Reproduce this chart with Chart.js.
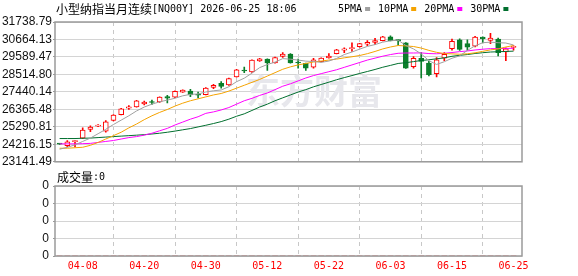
<!DOCTYPE html>
<html lang="zh-CN">
<head>
  <meta charset="UTF-8">
  <title>小型纳指当月连续[NQ00Y]</title>
  <script src="https://cdn.jsdelivr.net/npm/chart.js"></script>
  <style>
    html, body { margin: 0; padding: 0; background: #fff; }
    #wrap { position: relative; width: 578px; height: 276px; overflow: hidden; }
    #kline { position: absolute; left: 0; top: 0; }
    #vol { position: absolute; left: 0; top: 170px; }
  </style>
</head>
<body>
  <div id="wrap">
    <canvas id="kline" width="578" height="170"></canvas>
    <canvas id="vol" width="578" height="111"></canvas>
  </div>

  <script>
    // 交易日
    const dates = ['04-03','04-06','04-07','04-08','04-09','04-10','04-13','04-14','04-15','04-16',
                   '04-17','04-20','04-21','04-22','04-23','04-24','04-27','04-28','04-29','04-30',
                   '05-01','05-04','05-05','05-06','05-07','05-08','05-11','05-12','05-13','05-14',
                   '05-15','05-18','05-19','05-20','05-21','05-22','05-25','05-26','05-27','05-28',
                   '05-29','06-01','06-02','06-03','06-04','06-05','06-08','06-09','06-10','06-11',
                   '06-12','06-15','06-16','06-17','06-18','06-19','06-22','06-23','06-24','06-25'];
    const xTickLabels = ['04-08','04-20','04-30','05-12','05-22','06-03','06-15','06-25'];

    const open  = [24245,24137,24375,24589,25126,25328,25030,25686,26043,26436,
                   26520,26699,26805,26818,27151,27116,27431,27491,27245,27271,
                   27711,27968,27866,28367,28735,28665,29338,29457,29219,29618,
                   29773,29230,29201,28963,29296,29535,29797,30011,30095,30214,
                   30369,30488,30589,30827,30600,30452,28998,29499,29219,28563,
                   29517,30095,30649,30410,30250,30810,30607,30690,29892,30180];
    const high  = [24262,24452,24452,25227,25346,25430,25680,26050,26430,26597,
                   26920,26877,26937,27140,27235,27500,27575,27592,27431,27700,
                   27910,28069,28290,28830,28963,29420,29500,29480,29580,29856,
                   29800,29457,29220,29499,29540,29797,30060,30150,30452,30430,
                   30590,30740,30850,30887,30649,30470,29618,29856,29320,29558,
                   29856,30690,30708,30649,30850,30820,31048,30750,30154,30291];
    const low   = [24210,24053,24053,24560,24989,25300,24960,25660,26020,26359,
                   26500,26639,26675,26800,26758,27090,27410,27151,27074,27250,
                   27640,27670,27840,28340,28623,28640,29320,28760,29200,29558,
                   29200,28903,28760,28903,29280,29520,29780,29856,29934,30190,
                   30290,30350,30570,30570,30309,28880,28903,28307,28426,28367,
                   29356,30011,29993,30011,30210,30452,30410,29654,29356,30011];
    const close = [24232,24375,24452,25090,25269,25406,25602,26019,26401,26520,
                   26895,26818,26790,27116,27056,27473,27551,27253,27235,27670,
                   27848,27771,28266,28802,28724,29398,29475,29219,29558,29773,
                   29219,29219,28903,29415,29517,29636,30035,30095,30172,30410,
                   30488,30589,30827,30589,30589,28903,29499,29320,28504,29415,
                   29755,30547,30053,30190,30810,30708,30750,29856,30095,30214];

    const ma5  = [23916,24035,24184,24393,24601,24869,25138,25436,25704,25972,
                  26270,26508,26687,26830,26937,27050,27199,27288,27312,27437,
                  27509,27557,27759,28069,28283,28593,28933,29124,29272,29487,
                  29451,29398,29332,29308,29255,29338,29499,29737,29892,30071,
                  30238,30351,30500,30583,30619,30297,30083,29779,29362,29129,
                  29296,29511,29654,29993,30273,30464,30500,30464,30446,30327];
    const ma10 = [23976,23976,24006,24035,24155,24333,24542,24750,24959,25227,
                  25465,25733,25972,26180,26359,26568,26746,26895,27014,27134,
                  27253,27342,27491,27670,27848,28027,28206,28415,28623,28832,
                  28981,29100,29189,29278,29338,29398,29457,29535,29600,29678,
                  29791,29928,30083,30202,30291,30267,30232,30136,29993,29874,
                  29797,29779,29755,29785,29844,29934,30023,30083,30202,30291];
    const ma20 = [24244,24244,24244,24256,24274,24333,24393,24452,24542,24631,
                  24691,24780,24899,25048,25197,25406,25584,25763,25912,26121,
                  26210,26329,26478,26687,26895,27044,27223,27372,27580,27789,
                  27938,28117,28295,28444,28563,28683,28802,28951,29100,29249,
                  29397,29517,29636,29737,29815,29833,29833,29839,29797,29785,
                  29815,29862,29916,29958,30017,30065,30101,30101,30113,30124];
    const ma30 = [24572,24572,24572,24589,24601,24631,24661,24691,24721,24750,
                  24780,24810,24852,24899,24959,25030,25108,25185,25287,25388,
                  25495,25614,25763,25942,26091,26299,26508,26687,26895,27074,
                  27253,27431,27580,27753,27896,28039,28188,28319,28444,28575,
                  28695,28820,28957,29070,29189,29237,29302,29374,29415,29475,
                  29535,29630,29690,29737,29803,29850,29892,29910,29928,29946];

    const volume = [0,0,0,0,0,0,0,0,0,0, 0,0,0,0,0,0,0,0,0,0, 0,0,0,0,0,0,0,0,0,0,
                    0,0,0,0,0,0,0,0,0,0, 0,0,0,0,0,0,0,0,0,0, 0,0,0,0,0,0,0,0,0,0];

    const yTicks = [23141.49, 24216.15, 25290.81, 26365.48, 27440.14, 28514.80, 29589.47, 30664.13, 31738.79];
    const volTicks = [0, 1, 2, 3, 4];
    const volTickLabels = ['0','0','0','0','0'];

    const titleName = '小型纳指当月连续';
    const titleCode = '[NQ00Y] 2026-06-25 18:06';
    const maNames = ['5PMA', '10PMA', '20PMA', '30PMA'];
    const maColors = ['#a0a0a0', '#f5a300', '#ff00ff', '#006f2e'];

    const upColor = '#ff0000';
    const downColor = '#0b7f2a';
    const cjk = '"Noto Sans CJK SC"';
    const mono = '"DejaVu Sans Mono"';

    Chart.defaults.font.family = '"Liberation Sans", Arial, sans-serif';
    Chart.defaults.animation = false;

    const xTickIdx = xTickLabels.map(d => dates.indexOf(d));
    const isUp = i => close[i] >= open[i];

    // 外框
    const framePlugin = {
      id: 'frame',
      afterDraw(chart) {
        const { ctx, chartArea: a } = chart;
        ctx.save();
        ctx.strokeStyle = '#9a9a9a';
        ctx.lineWidth = 1.5;
        ctx.strokeRect(a.left, a.top, a.right - a.left, a.bottom - a.top);
        ctx.restore();
      }
    };

    const headerPlugin = {
      id: 'header',
      beforeDatasetsDraw(chart) {
        const ctx = chart.ctx;
        ctx.save();
        ctx.font = 'bold 34px ' + cjk;
        ctx.fillStyle = '#e7e7ec';
        ctx.textBaseline = 'middle';
        ctx.fillText('东方财富', 246, 91);
        ctx.restore();
      },
      afterDraw(chart) {
        const ctx = chart.ctx;
        ctx.save();
        ctx.fillStyle = '#000';
        ctx.textBaseline = 'middle';
        ctx.font = '12px ' + cjk;
        ctx.fillText(titleName, 56, 9);
        const w = ctx.measureText(titleName).width;
        ctx.font = '10px ' + mono;
        ctx.fillText(titleCode, 56 + w, 9);

        let x = 338;
        maNames.forEach((name, k) => {
          ctx.fillStyle = '#000';
          ctx.fillText(name, x, 9);
          x += ctx.measureText(name).width + 3;
          ctx.fillStyle = maColors[k];
          ctx.fillRect(x, 7, 5, 4);
          x += 13;
        });
        ctx.restore();
      }
    };

    const volLabelPlugin = {
      id: 'volLabel',
      afterDraw(chart) {
        const ctx = chart.ctx;
        ctx.save();
        ctx.fillStyle = '#000';
        ctx.textBaseline = 'middle';
        ctx.font = '12px ' + cjk;
        ctx.fillText('成交量', 57, 7);
        const w = ctx.measureText('成交量').width;
        ctx.font = '10px ' + mono;
        ctx.fillText(':' + volume[volume.length - 1], 57 + w, 7);
        ctx.restore();
      }
    };

    const xScale = (showLabels) => ({
      type: 'linear',
      min: -0.6,
      max: 60.1,
      offset: false,
      afterBuildTicks: s => { s.ticks = xTickIdx.map(v => ({ value: v })); },
      ticks: {
        display: showLabels,
        autoSkip: false,
        maxRotation: 0,
        padding: 4,
        color: '#ff0000',
        font: { family: mono, size: 10 },
        callback: v => dates[v]
      },
      grid: { color: '#c8c8c8', drawTicks: false },
      border: { display: false, dash: [4, 4] }
    });

    new Chart(document.getElementById('kline'), {
      type: 'bar',
      data: {
        datasets: [
          ...[ma5, ma10, ma20, ma30].map((arr, k) => ({
            type: 'line',
            label: maNames[k],
            data: arr.map((v, i) => ({ x: i, y: v })),
            borderColor: maColors[k],
            borderWidth: 1,
            pointRadius: 0,
            tension: 0,
            order: 0
          })),
          {
            label: 'body',
            data: dates.map((d, i) => ({ x: i, y: [open[i], close[i]] })),
            backgroundColor: c => isUp(c.dataIndex) ? '#ffffff' : downColor,
            borderColor: c => isUp(c.dataIndex) ? upColor : downColor,
            borderWidth: 1,
            borderSkipped: false,
            barThickness: 5,
            minBarLength: 1,
            grouped: false,
            order: 1
          },
          {
            label: 'wick',
            data: dates.map((d, i) => ({ x: i, y: [low[i], high[i]] })),
            backgroundColor: c => isUp(c.dataIndex) ? upColor : downColor,
            barThickness: 1,
            grouped: false,
            order: 2
          }
        ]
      },
      options: {
        responsive: false,
        devicePixelRatio: 1,
        layout: { padding: { top: 22, right: 56, bottom: 4.5, left: 0 } },
        plugins: { legend: { display: false }, tooltip: { enabled: false } },
        scales: {
          x: xScale(false),
          y: {
            min: yTicks[0],
            max: yTicks[yTicks.length - 1],
            afterBuildTicks: s => { s.ticks = yTicks.map(v => ({ value: v })); },
            afterFit: s => { s.width = 55; },
            ticks: {
              autoSkip: false,
              padding: 1,
              color: '#111',
              font: { size: 12 },
              callback: v => v.toFixed(2)
            },
            grid: { color: '#d4d4d4', tickLength: 2, tickColor: '#999' },
            border: { display: false }
          }
        }
      },
      plugins: [headerPlugin, framePlugin]
    });

    new Chart(document.getElementById('vol'), {
      type: 'bar',
      data: {
        datasets: [{
          label: '成交量',
          data: volume.map((v, i) => ({ x: i, y: v })),
          backgroundColor: upColor,
          barThickness: 5
        }]
      },
      options: {
        responsive: false,
        devicePixelRatio: 1,
        layout: { padding: { top: 16, right: 56, bottom: 5, left: 0 } },
        plugins: { legend: { display: false }, tooltip: { enabled: false } },
        scales: {
          x: xScale(true),
          y: {
            min: volTicks[0],
            max: volTicks[volTicks.length - 1],
            afterBuildTicks: s => { s.ticks = volTicks.map(v => ({ value: v })); },
            afterFit: s => { s.width = 55; },
            ticks: {
              autoSkip: false,
              padding: 4,
              color: '#111',
              font: { size: 12 },
              callback: (v, i) => volTickLabels[i]
            },
            grid: { color: '#d4d4d4', tickLength: 2, tickColor: '#999' },
            border: { display: false }
          }
        }
      },
      plugins: [volLabelPlugin, framePlugin]
    });
  </script>
</body>
</html>
